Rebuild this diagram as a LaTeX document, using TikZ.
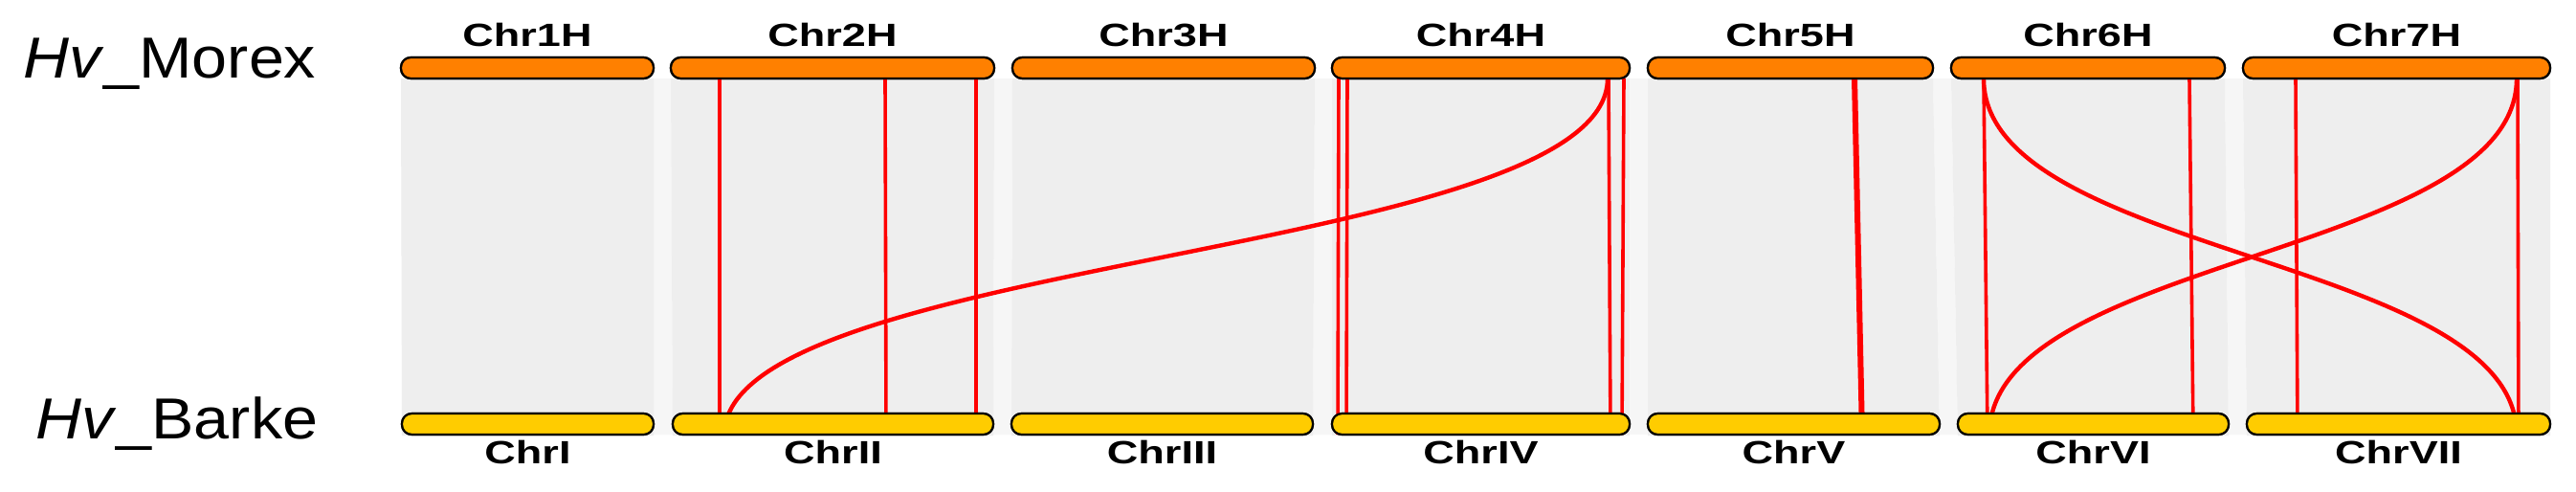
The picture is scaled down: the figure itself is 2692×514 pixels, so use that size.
\documentclass[tikz,border=0pt]{standalone}
\usepackage{fontspec}
\setmainfont{Liberation Sans}
\newfontfamily\chrfont[FakeStretch=1.34]{Liberation Sans}
\newfontfamily\hvfont[FakeStretch=1.1]{Liberation Sans}
\usetikzlibrary{calc}
\definecolor{morex}{RGB}{255,128,0}
\definecolor{barke}{RGB}{255,204,0}
\definecolor{ribbon}{RGB}{238,238,238}
\definecolor{gapgray}{RGB}{246,246,246}
\definecolor{linkred}{RGB}{255,0,0}
\newcommand{\pxu}[1]{#1*0.25pt}
\tikzset{
  chrbar/.style={draw=black, line width=0.55pt, rounded corners=2.6pt,
    minimum height=5.5pt, inner sep=0pt, outer sep=0pt},
  topbar/.style={chrbar, fill=morex},
  botbar/.style={chrbar, fill=barke},
  chrlabel/.style={font=\chrfont\bfseries\fontsize{8.4pt}{10pt}\selectfont, inner sep=0pt, anchor=base},
  genome/.style={font=\hvfont\fontsize{15.1pt}{18pt}\selectfont, inner sep=0pt, anchor=base east},
  link/.style={draw=linkred, line width=0.9pt},
  thicklink/.style={draw=linkred, line width=1.5pt},
  ribbonfill/.style={fill=ribbon, draw=none},
  gapfill/.style={fill=gapgray, draw=none}
}
\begin{document}
\begin{tikzpicture}[x=0.25pt, y=-0.25pt]
\fill[white] (0,0) rectangle (2692,514);
\useasboundingbox (0,0) rectangle (2692,514);

% gaps between pairs
\fill[gapfill] (683,82) -- (701,82) -- (703,454) -- (683,454) -- cycle;
\fill[gapfill] (1039,82) -- (1058,82) -- (1057,454) -- (1038,454) -- cycle;
\fill[gapfill] (1374,82) -- (1392,82) -- (1392,454) -- (1372,454) -- cycle;
\fill[gapfill] (1703,82) -- (1722,82) -- (1722,454) -- (1703,454) -- cycle;
\fill[gapfill] (2020,82) -- (2039,82) -- (2046,454) -- (2027,454) -- cycle;
\fill[gapfill] (2325,82) -- (2344,82) -- (2348,454) -- (2329,454) -- cycle;

% collinearity ribbons
\fill[ribbonfill] (419,82) -- (683,82) -- (683,455) -- (420,455) -- cycle;
\fill[ribbonfill] (701,82) -- (1039,82) -- (1038,455) -- (703,455) -- cycle;
\fill[ribbonfill] (1058,82) -- (1374,82) -- (1372,455) -- (1057,455) -- cycle;
\fill[ribbonfill] (1392,82) -- (1703,82) -- (1703,455) -- (1392,455) -- cycle;
\fill[ribbonfill] (1722,82) -- (2020,82) -- (2027,455) -- (1722,455) -- cycle;
\fill[ribbonfill] (2039,82) -- (2325,82) -- (2329,455) -- (2046,455) -- cycle;
\fill[ribbonfill] (2344,82) -- (2665,82) -- (2665,455) -- (2348,455) -- cycle;

% chromosome bars (Morex, top)
\node[topbar, minimum width=\pxu{264}] (t1) at (551,71) {};
\node[topbar, minimum width=\pxu{338}] (t2) at (870,71) {};
\node[topbar, minimum width=\pxu{316}] (t3) at (1216,71) {};
\node[topbar, minimum width=\pxu{311}] (t4) at (1547.5,71) {};
\node[topbar, minimum width=\pxu{298}] (t5) at (1871,71) {};
\node[topbar, minimum width=\pxu{286}] (t6) at (2182,71) {};
\node[topbar, minimum width=\pxu{321}] (t7) at (2504.5,71) {};
% chromosome bars (Barke, bottom)
\node[botbar, minimum width=\pxu{263}] (b1) at (551.5,443) {};
\node[botbar, minimum width=\pxu{335}] (b2) at (870.5,443) {};
\node[botbar, minimum width=\pxu{315}] (b3) at (1214.5,443) {};
\node[botbar, minimum width=\pxu{311}] (b4) at (1547.5,443) {};
\node[botbar, minimum width=\pxu{305}] (b5) at (1874.5,443) {};
\node[botbar, minimum width=\pxu{283}] (b6) at (2187.5,443) {};
\node[botbar, minimum width=\pxu{317}] (b7) at (2506.5,443) {};

% mid-height for curve controls
\coordinate (mid) at (0,268);

% link end points: top ends on the lower edge of the Morex bars
\coordinate (a1) at ([xshift=\pxu{51}]t2.south west);
\coordinate (a2) at ([xshift=\pxu{224}]t2.south west);
\coordinate (a3) at ([xshift=\pxu{319}]t2.south west);
\coordinate (a4) at ([xshift=\pxu{7}]t4.south west);
\coordinate (a5) at ([xshift=\pxu{16}]t4.south west);
\coordinate (a6) at ([xshift=\pxu{289}]t4.south west);
\coordinate (a7) at ([xshift=\pxu{305}]t4.south west);
\coordinate (a8) at ([xshift=\pxu{288}]t4.south west);
\coordinate (a9) at ([xshift=\pxu{216}]t5.south west);
\coordinate (a10) at ([xshift=\pxu{34}]t6.south west);
\coordinate (a11) at ([xshift=\pxu{249}]t6.south west);
\coordinate (a12) at ([xshift=\pxu{55}]t7.south west);
\coordinate (a13) at ([xshift=\pxu{287}]t7.south west);
\coordinate (a14) at ([xshift=\pxu{286}]t7.south west);
% bottom ends: lower edge of the Barke bars
\coordinate (z1) at ([xshift=\pxu{49}]b2.south west);
\coordinate (z2) at ([xshift=\pxu{223}]b2.south west);
\coordinate (z3) at ([xshift=\pxu{317}]b2.south west);
\coordinate (z4) at ([xshift=\pxu{6}]b4.south west);
\coordinate (z5) at ([xshift=\pxu{15}]b4.south west);
\coordinate (z6) at ([xshift=\pxu{291}]b4.south west);
\coordinate (z7) at ([xshift=\pxu{303}]b4.south west);
\coordinate (z8) at ([xshift=\pxu{54}]b2.south west);
\coordinate (z9) at ([xshift=\pxu{224}]b5.south west);
\coordinate (z10) at ([xshift=\pxu{31}]b6.south west);
\coordinate (z11) at ([xshift=\pxu{246}]b6.south west);
\coordinate (z12) at ([xshift=\pxu{53}]b7.south west);
\coordinate (z13) at ([xshift=\pxu{284}]b7.south west);
\coordinate (z14) at ([xshift=\pxu{282}]b7.south west);
\coordinate (z15) at ([xshift=\pxu{33}]b6.south west);

% red links (straight)
\draw[link] (a1) -- (z1);
\draw[link] (a2) -- (z2);
\draw[link] (a3) -- (z3);
\draw[link] (a4) -- (z4);
\draw[link] (a5) -- (z5);
\draw[link] (a6) -- (z6);
\draw[link] (a7) -- (z7);
\draw[thicklink] (a9) -- (z9);
\draw[link] (a10) -- (z10);
\draw[link] (a11) -- (z11);
\draw[link] (a12) -- (z12);
\draw[link] (a13) -- (z13);
% red links (curved, inter-chromosomal)
\draw[link, line width=1.1pt] (a8) .. controls (a8 |- mid) and (z8 |- mid) .. (z8);
\draw[link, line width=1.1pt] (a10) .. controls (a10 |- mid) and (z14 |- mid) .. (z14);
\draw[link, line width=1.1pt] (a14) .. controls (a14 |- mid) and (z15 |- mid) .. (z15);

% redraw bars on top of the links
\foreach \n in {t1,t2,t3,t4,t5,t6,t7}{
  \draw[line width=0.55pt, rounded corners=2.6pt, fill=morex] (\n.south west) rectangle (\n.north east);
}
\foreach \n in {b1,b2,b3,b4,b5,b6,b7}{
  \draw[line width=0.55pt, rounded corners=2.6pt, fill=barke] (\n.south west) rectangle (\n.north east);
}

% chromosome labels
\node[chrlabel] (lt1) at (551,49) {Chr1H};
\node[chrlabel] (lt2) at (870,49) {Chr2H};
\node[chrlabel] (lt3) at (1216,49) {Chr3H};
\node[chrlabel] (lt4) at (1547.5,49) {Chr4H};
\node[chrlabel] (lt5) at (1871,49) {Chr5H};
\node[chrlabel] (lt6) at (2182,49) {Chr6H};
\node[chrlabel] (lt7) at (2504.5,49) {Chr7H};
\node[chrlabel] (lb1) at (551.5,484) {ChrI};
\node[chrlabel] (lb2) at (870.5,484) {ChrII};
\node[chrlabel] (lb3) at (1214.5,484) {ChrIII};
\node[chrlabel] (lb4) at (1547.5,484) {ChrIV};
\node[chrlabel] (lb5) at (1874.5,484) {ChrV};
\node[chrlabel] (lb6) at (2187.5,484) {ChrVI};
\node[chrlabel] (lb7) at (2506.5,484) {ChrVII};

% genome labels
\node[genome] (gm) at (331,81.7) {\textit{Hv}\_Morex};
\node[genome] (gb) at (333,458.3) {\textit{Hv}\_Barke};
\end{tikzpicture}
\end{document}
